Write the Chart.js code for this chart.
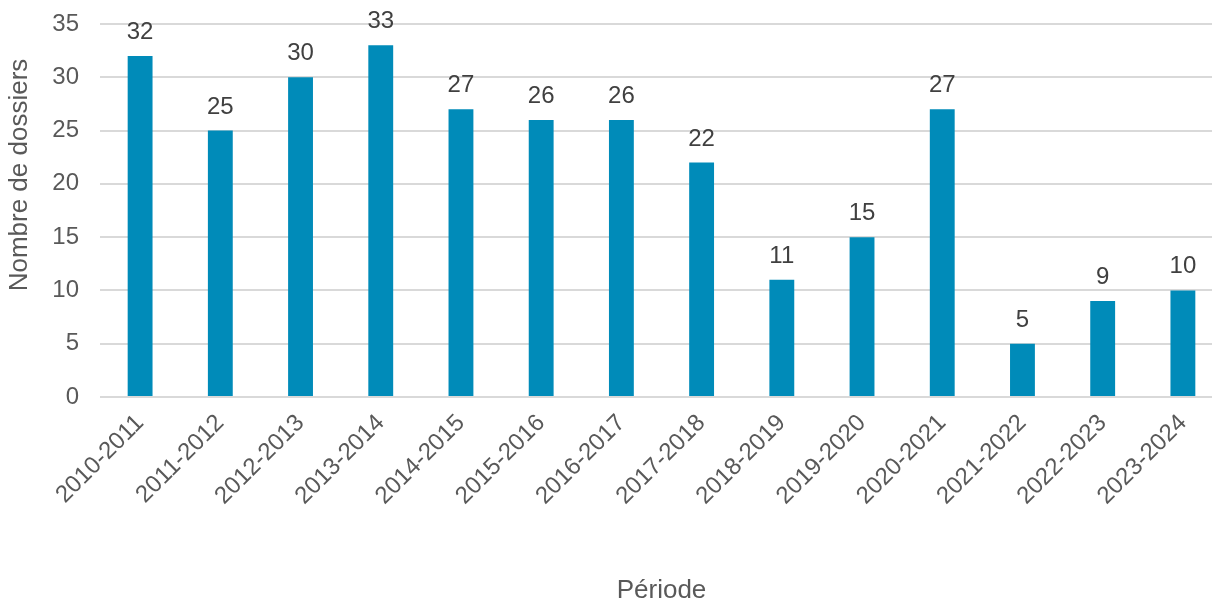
<!DOCTYPE html>
<html>
<head>
<meta charset="utf-8">
<script src="https://cdn.jsdelivr.net/npm/chart.js@4"></script>
<style>
  html, body { margin: 0; padding: 0; background: #fff; overflow: hidden; }
  #wrap { width: 1223px; height: 600px; }
</style>
</head>
<body>
<div id="wrap"><canvas id="chart" width="1223" height="600"></canvas></div>
<script>
var periodes = ['2010-2011', '2011-2012', '2012-2013', '2013-2014', '2014-2015', '2015-2016', '2016-2017',
  '2017-2018', '2018-2019', '2019-2020', '2020-2021', '2021-2022', '2022-2023', '2023-2024'];
var dossiers = [32, 25, 30, 33, 27, 26, 26, 22, 11, 15, 27, 5, 9, 10];
var yTicks = [0, 5, 10, 15, 20, 25, 30, 35];
var yTitle = 'Nombre de dossiers';

var FONT = '"Liberation Sans", Arial, sans-serif';

// value labels above each bar + y axis title (sits higher than centre in the original)
var barLabels = {
  id: 'barLabels',
  afterDatasetsDraw: function(chart) {
    var ctx = chart.ctx;
    var meta = chart.getDatasetMeta(0);
    ctx.save();
    ctx.font = '24px ' + FONT;
    ctx.fillStyle = '#404040';
    ctx.textAlign = 'center';
    ctx.textBaseline = 'alphabetic';
    meta.data.forEach(function(bar, i) {
      ctx.fillText(String(dossiers[i]), bar.x, bar.y - 17);
    });
    ctx.restore();

    ctx.save();
    ctx.font = '26px ' + FONT;
    ctx.fillStyle = '#595959';
    ctx.textAlign = 'center';
    ctx.textBaseline = 'middle';
    ctx.translate(20, 175);
    ctx.rotate(-Math.PI / 2);
    ctx.fillText(yTitle, 0, 0);
    ctx.restore();
  }
};

new Chart(document.getElementById('chart'), {
  type: 'bar',
  data: {
    labels: periodes,
    datasets: [{
      label: yTitle,
      data: dossiers,
      backgroundColor: '#008bb9',
      categoryPercentage: 1,
      barPercentage: 0.31
    }]
  },
  plugins: [barLabels],
  options: {
    responsive: false,
    animation: false,
    devicePixelRatio: 1,
    layout: { padding: { top: 24, right: 0, bottom: 0, left: 0 } },
    plugins: {
      legend: { display: false },
      tooltip: { enabled: false }
    },
    scales: {
      x: {
        grid: { display: false, drawTicks: false },
        border: { display: false },
        ticks: {
          color: '#595959',
          font: { family: FONT, size: 24 },
          minRotation: 45,
          maxRotation: 45,
          padding: 12,
          autoSkip: false
        },
        title: {
          display: true,
          text: 'Période',
          color: '#595959',
          font: { family: FONT, size: 26 },
          padding: { top: 0, bottom: -6 }
        },
        afterFit: function(scale) { scale.height = 203; }
      },
      y: {
        min: 0,
        max: 35,
        afterBuildTicks: function(scale) {
          scale.ticks = yTicks.map(function(v) { return { value: v }; });
        },
        grid: { color: '#d9d9d9', lineWidth: 2, drawTicks: false },
        border: { display: false },
        ticks: {
          color: '#595959',
          font: { family: FONT, size: 24 },
          padding: 21
        },
        title: { display: false },
        afterFit: function(scale) {
          scale.width = 100;
          scale.paddingTop = 0;
          scale.paddingBottom = 0;
        }
      }
    }
  }
});
</script>
</body>
</html>
